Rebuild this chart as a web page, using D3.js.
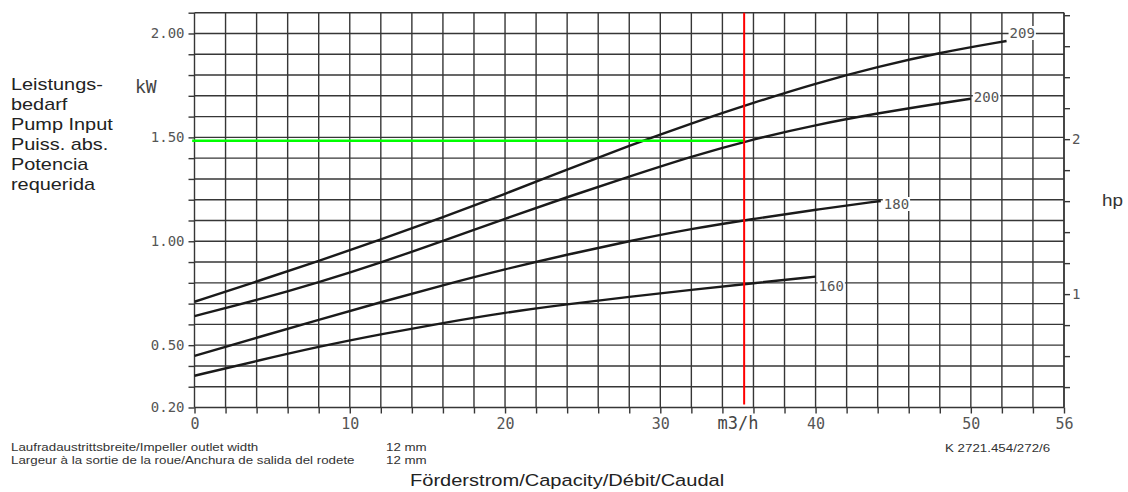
<!DOCTYPE html>
<html>
<head>
<meta charset="utf-8">
<script src="https://cdn.jsdelivr.net/npm/d3@7"></script>
<style>
html,body{margin:0;padding:0;background:#fff;}
svg{display:block;}
</style>
</head>
<body>
<svg id="chart" width="1128" height="492"></svg>
<script>
// ---- data ----
const curveNames = ["209", "200", "180", "160"];
const flow209 = [0, 4, 8, 12, 16, 20, 24, 28, 32, 36, 40, 44, 48, 52.3];
const power209 = [0.709, 0.806, 0.905, 1.008, 1.115, 1.228, 1.345, 1.460, 1.568, 1.667, 1.760, 1.840, 1.908, 1.964];
const flow200 = [0, 4, 8, 12, 16, 20, 24, 28, 32, 36, 40, 44, 48, 50];
const power200 = [0.640, 0.716, 0.802, 0.897, 1.002, 1.108, 1.213, 1.311, 1.408, 1.492, 1.560, 1.616, 1.664, 1.686];
const flow180 = [0, 4, 8, 12, 16, 20, 24, 28, 32, 36, 40, 44.2];
const power180 = [0.448, 0.536, 0.622, 0.707, 0.789, 0.866, 0.936, 1.001, 1.060, 1.108, 1.152, 1.194];
const flow160 = [0, 4, 8, 12, 16, 20, 24, 28, 32, 36, 40];
const power160 = [0.353, 0.424, 0.493, 0.553, 0.607, 0.657, 0.697, 0.733, 0.766, 0.798, 0.830];

const xTickLabels = [0, 10, 20, 30, 40, 50, 56];
const yTickLabels = [0.2, 0.5, 1.0, 1.5, 2.0];
const hpTickLabels = [1, 2];
const dutyFlow = 35.4;     // red line (m3/h)
const dutyPower = 1.484;   // green line (kW)
const KW_PER_HP = 0.7457;

const leftTitle = ["Leistungs-", "bedarf", "Pump Input", "Puiss. abs.", "Potencia", "requerida"];
const footLines = ["Laufradaustrittsbreite/Impeller outlet width", "Largeur à la sortie de la roue/Anchura de salida del rodete"];
const footValues = ["12 mm", "12 mm"];
const docCode = "K 2721.454/272/6";
const xTitle = "Förderstrom/Capacity/Débit/Caudal";

// ---- layout ----
const svg = d3.select("#chart");
const L = 194.5, R = 1064, T = 12.7, B = 407.5;
const x = d3.scaleLinear().domain([0, 56]).range([L, R]);
const y = d3.scaleLinear().domain([0.2, 2.1]).range([B, T]);
const yHp = d3.scaleLinear().domain([0.2 / KW_PER_HP, 2.1 / KW_PER_HP]).range([B, T]);

const gridColor = "#363636";
const labelColor = "#555";
const mono = "'DejaVu Sans Mono', 'Liberation Mono', monospace";
const sans = "'Liberation Sans', Arial, sans-serif";
const STRETCH = 1.18;

// grid: horizontal every 0.1 kW
const hVals = d3.range(2, 22).map(d => d / 10);
svg.append("g").selectAll("line").data(hVals).join("line")
  .attr("x1", L).attr("x2", R)
  .attr("y1", d => y(d)).attr("y2", d => y(d))
  .attr("stroke", gridColor).attr("stroke-width", 1.4);

// grid: vertical every 2 m3/h
const vVals = d3.range(0, 57, 2);
svg.append("g").selectAll("line").data(vVals).join("line")
  .attr("x1", d => x(d)).attr("x2", d => x(d))
  .attr("y1", T).attr("y2", B)
  .attr("stroke", gridColor).attr("stroke-width", 1.4);

// left axis
const yAxis = d3.axisLeft(y).tickValues(hVals).tickSize(6).tickPadding(4)
  .tickFormat(d => yTickLabels.some(v => Math.abs(v - d) < 1e-6) ? d3.format(".2f")(d) : "");
const gy = svg.append("g").attr("transform", `translate(${L},0)`).call(yAxis);
gy.select(".domain").remove();
gy.selectAll(".tick line").attr("stroke", gridColor).attr("stroke-width", 1.4);
gy.selectAll(".tick text").attr("font-family", mono).attr("font-size", 14).attr("fill", labelColor);

// bottom axis
const xAxis = d3.axisBottom(x).tickValues(vVals).tickSize(6).tickPadding(5)
  .tickFormat(d => xTickLabels.includes(d) ? d : "");
const gx = svg.append("g").attr("transform", `translate(0,${B})`).call(xAxis);
gx.select(".domain").remove();
gx.selectAll(".tick line").attr("stroke", gridColor).attr("stroke-width", 1.4);
gx.selectAll(".tick text").attr("font-family", mono).attr("font-size", 15).attr("fill", labelColor);
svg.append("text").attr("x", x(35)).attr("y", B + 21).attr("text-anchor", "middle")
  .attr("font-family", mono).attr("font-size", 17).attr("fill", "#444").text("m3/h");

// right axis (hp)
const hpVals = d3.range(2, 15).map(d => d / 5);
const hpAxis = d3.axisRight(yHp).tickValues(hpVals).tickSize(6).tickPadding(2)
  .tickFormat(d => hpTickLabels.some(v => Math.abs(v - d) < 1e-6) ? d3.format("d")(d) : "");
const gh = svg.append("g").attr("transform", `translate(${R},0)`).call(hpAxis);
gh.select(".domain").attr("stroke", gridColor).attr("stroke-width", 1.4).attr("d", `M0,${T}V${B}`);
gh.selectAll(".tick line").attr("stroke", gridColor).attr("stroke-width", 1.4);
gh.selectAll(".tick text").attr("font-family", mono).attr("font-size", 14).attr("fill", labelColor);

// unit labels
svg.append("text").attr("x", 135).attr("y", 93).attr("font-family", mono)
  .attr("font-size", 18).attr("fill", "#444").text("kW");
svg.append("text").attr("transform", `translate(1102,206) scale(${STRETCH},1)`)
  .attr("font-family", sans).attr("font-size", 16).attr("fill", "#333").text("hp");

// curves
const series = [
  {name: curveNames[0], q: flow209, p: power209, dy: -8},
  {name: curveNames[1], q: flow200, p: power200, dy: -2},
  {name: curveNames[2], q: flow180, p: power180, dy: 3},
  {name: curveNames[3], q: flow160, p: power160, dy: 9}
];
const line = d3.line().x(d => x(d[0])).y(d => y(d[1])).curve(d3.curveBasis);
series.forEach(s => {
  const pts = s.q.map((q, i) => [q, s.p[i]]);
  svg.append("path").attr("d", line(pts)).attr("fill", "none")
    .attr("stroke", "#1a1a1a").attr("stroke-width", 2.4);
});

// duty lines
svg.append("line").attr("x1", x(-0.15)).attr("x2", x(dutyFlow))
  .attr("y1", y(dutyPower)).attr("y2", y(dutyPower))
  .attr("stroke", "#00ff00").attr("stroke-width", 2.5);
svg.append("line").attr("x1", x(dutyFlow)).attr("x2", x(dutyFlow))
  .attr("y1", T).attr("y2", B - 3)
  .attr("stroke", "#ff0000").attr("stroke-width", 2);

// curve labels with white boxes
series.forEach(s => {
  const n = s.q.length - 1;
  const lx = x(s.q[n]) + 3, ly = y(s.p[n]) + s.dy;
  const g = svg.append("g");
  const t = g.append("text").attr("x", lx).attr("y", ly).attr("dy", "0.36em")
    .attr("font-family", mono).attr("font-size", 14).attr("fill", labelColor).text(s.name);
  const bb = t.node().getBBox();
  g.insert("rect", "text").attr("x", bb.x - 1).attr("y", bb.y + 1)
    .attr("width", bb.width + 2).attr("height", bb.height - 2).attr("fill", "#fff");
});

// left title block
leftTitle.forEach((s, i) => {
  svg.append("text").attr("transform", `translate(11,${89.5 + 20 * i}) scale(1.17,1)`)
    .attr("font-family", sans).attr("font-size", 17).attr("fill", "#222").text(s);
});

// footer
footLines.forEach((s, i) => {
  svg.append("text").attr("transform", `translate(11,${451 + 13 * i}) scale(${STRETCH},1)`)
    .attr("font-family", sans).attr("font-size", 11.3).attr("fill", "#333").text(s);
  svg.append("text").attr("transform", `translate(386,${451 + 13 * i}) scale(${STRETCH},1)`)
    .attr("font-family", sans).attr("font-size", 11.3).attr("fill", "#333").text(footValues[i]);
});
svg.append("text").attr("transform", `translate(945,452) scale(${STRETCH},1)`)
  .attr("font-family", sans).attr("font-size", 11.3).attr("fill", "#333").text(docCode);
svg.append("text").attr("transform", `translate(410,486) scale(${STRETCH},1)`)
  .attr("font-family", sans).attr("font-size", 17).attr("fill", "#222").text(xTitle);
</script>
</body>
</html>
